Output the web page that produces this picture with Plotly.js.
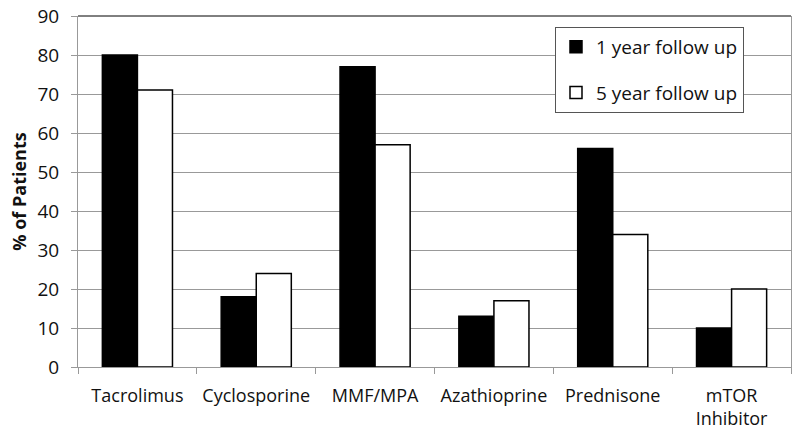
<!DOCTYPE html>
<html>
<head>
<meta charset="utf-8">
<script src="https://cdn.plot.ly/plotly-3.0.1.min.js"></script>
<style>
  body { margin: 0; background: #fff; }
  #chart { width: 800px; height: 440px; }
</style>
</head>
<body>
<div id="chart"></div>
<script>
var drugs = ['Tacrolimus', 'Cyclosporine', 'MMF/MPA', 'Azathioprine', 'Prednisone', 'mTOR<br>Inhibitor'];
var oneYear = [80, 18, 77, 13, 56, 10];
var fiveYear = [71, 24, 57, 17, 34, 20];

var CHART = document.getElementById('chart');

var trace1 = {
  x: drugs,
  y: oneYear,
  name: '1 year follow up',
  type: 'bar',
  legendgroup: 'a',
  marker: {color: '#000', line: {color: '#000', width: 1.5}}
};

var trace2 = {
  x: drugs,
  y: fiveYear,
  name: '5 year follow up',
  type: 'bar',
  legendgroup: 'b',
  marker: {color: '#fff', line: {color: '#000', width: 1.5}}
};

var layout = {
  width: 800,
  height: 440,
  margin: {l: 78, r: 9, t: 16, b: 73},
  paper_bgcolor: '#fff',
  plot_bgcolor: '#fff',
  font: {family: 'Open Sans, sans-serif', size: 19, color: '#111'},
  barmode: 'group',
  bargap: 0.41,
  bargroupgap: 0,
  showlegend: true,
  legend: {
    x: 0.669, y: 0.969, xanchor: 'left', yanchor: 'top',
    bgcolor: '#fff',
    bordercolor: '#555',
    borderwidth: 1,
    tracegroupgap: 18,
    font: {size: 19, color: '#111'}
  },
  xaxis: {
    type: 'category',
    showline: true,
    linecolor: '#999',
    linewidth: 1,
    ticks: 'outside',
    tickson: 'boundaries',
    ticklen: 6,
    tickcolor: '#999',
    tickangle: 0,
    tickfont: {size: 18},
    ticklabelstandoff: 12,
    automargin: false,
    showgrid: false
  },
  yaxis: {
    range: [0, 90],
    dtick: 10,
    showline: true,
    linecolor: '#999',
    mirror: true,
    ticks: 'outside',
    ticklen: 6,
    tickcolor: '#999',
    ticklabelstandoff: 8,
    showgrid: true,
    gridcolor: '#999',
    gridwidth: 1,
    zeroline: false,
    automargin: false,
    title: {text: '<b>% of Patients</b>', font: {size: 18, color: '#111'}, standoff: 6}
  },
  shapes: [
    // dark top border of the plot area
    {type: 'line', xref: 'paper', yref: 'paper', x0: 0, x1: 1, y0: 1, y1: 1,
     line: {color: '#000', width: 1}}
  ]
};

Plotly.newPlot(CHART, [trace1, trace2], layout, {displayModeBar: false});
</script>
</body>
</html>
